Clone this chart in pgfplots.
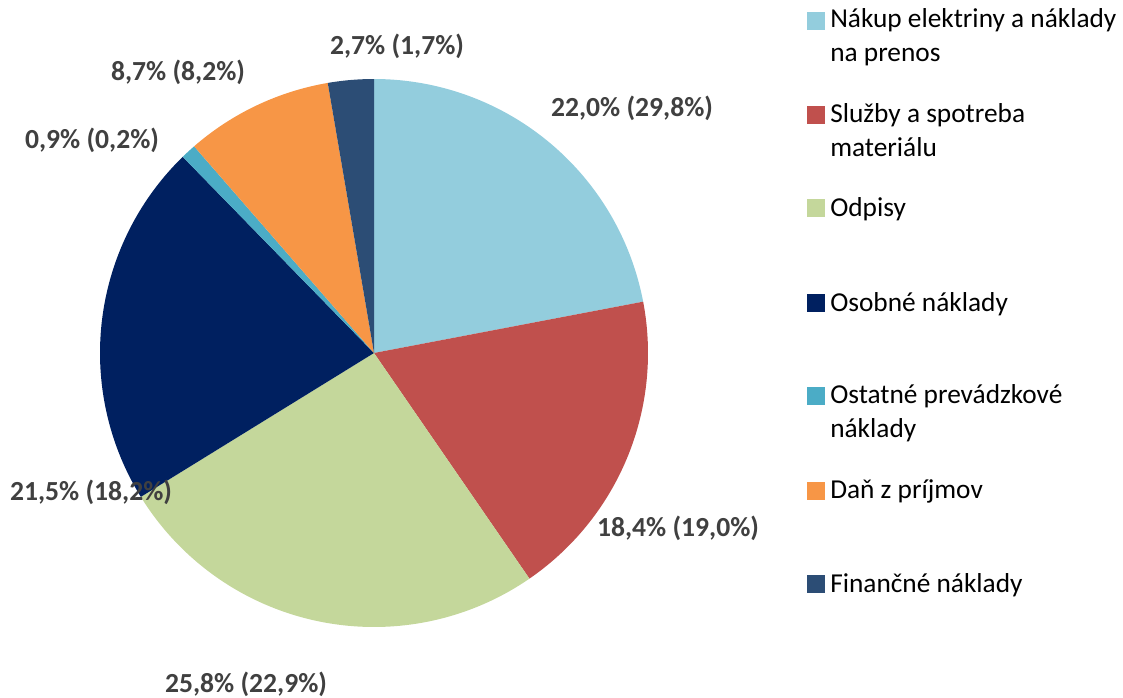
\documentclass[border=0pt]{standalone}
\usepackage{pgfplots}
\usepackage{pgfplotstable}
\pgfplotsset{compat=1.18}
\usepackage{fontspec}
\setmainfont{Carlito}
\definecolor{slice0}{HTML}{93CDDD}
\definecolor{slice1}{HTML}{C0504D}
\definecolor{slice2}{HTML}{C4D79B}
\definecolor{slice3}{HTML}{002060}
\definecolor{slice4}{HTML}{4BACC6}
\definecolor{slice5}{HTML}{F79646}
\definecolor{slice6}{HTML}{2C4D75}
\definecolor{lbl}{HTML}{404040}
\pgfplotstableread{
value prev
22.0 29.8
18.4 19.0
25.8 22.9
21.5 18.2
0.9 0.2
8.7 8.2
2.7 1.7
}\piedata
\begin{document}
\begin{tikzpicture}
\begin{axis}[
  scale only axis, width=842.25pt, height=523.5pt,
  xmin=0, xmax=1123, ymin=0, ymax=698, y dir=reverse,
  hide axis, clip=false,
]
\path (axis cs:0,0) rectangle (axis cs:1123,698);
\def\cum{90}
\pgfplotsforeachungrouped \i in {0,...,6}{%
  \pgfplotstablegetelem{\i}{value}\of\piedata
  \pgfmathsetmacro\a{\cum}%
  \pgfmathsetmacro\b{\cum-3.6*\pgfplotsretval}%
  \edef\cmd{\noexpand\addplot[draw=none, fill=slice\i, domain=\b:\a, samples=120] ({374+274*cos(x)},{353-274*sin(x)}) -- (axis cs:374,353) -- cycle;}%
  \cmd
  \global\let\cum\b
}
% legend squares
\addplot[color=slice0, only marks, mark=square*, mark size=6.2pt] coordinates {(816,21)};
\addplot[color=slice1, only marks, mark=square*, mark size=6.2pt] coordinates {(816,115)};
\addplot[color=slice2, only marks, mark=square*, mark size=6.2pt] coordinates {(816,208)};
\addplot[color=slice3, only marks, mark=square*, mark size=6.2pt] coordinates {(816,303)};
\addplot[color=slice4, only marks, mark=square*, mark size=6.2pt] coordinates {(816,396)};
\addplot[color=slice5, only marks, mark=square*, mark size=6.2pt] coordinates {(816,491)};
\addplot[color=slice6, only marks, mark=square*, mark size=6.2pt] coordinates {(816,584)};
% legend text
\begin{scope}[every node/.style={anchor=base west, inner sep=0pt, font=\fontsize{20.5}{22}\selectfont, text=black}]
\node at (axis cs:830,28) {Nákup elektriny a náklady};
\node at (axis cs:830,62) {na prenos};
\node at (axis cs:830,123) {Služby a spotreba};
\node at (axis cs:830,157) {materiálu};
\node at (axis cs:830,217) {Odpisy};
\node at (axis cs:830,311) {Osobné náklady};
\node at (axis cs:830,403) {Ostatné prevádzkové};
\node at (axis cs:830,437) {náklady};
\node at (axis cs:830,498) {Daň z príjmov};
\node at (axis cs:830,592) {Finančné náklady};
\end{scope}
% data labels
\begin{scope}[every node/.style={anchor=center, inner sep=0pt, font=\fontsize{20.7}{22}\selectfont\bfseries, text=lbl}]
\node at (axis cs:632,108) {22,0\% (29,8\%)};
\node at (axis cs:678,528) {18,4\% (19,0\%)};
\node at (axis cs:246,684) {25,8\% (22,9\%)};
\node at (axis cs:91,492) {21,5\% (18,2\%)};
\node at (axis cs:92,140) {0,9\% (0,2\%)};
\node at (axis cs:178,72) {8,7\% (8,2\%)};
\node at (axis cs:397,46) {2,7\% (1,7\%)};
\end{scope}
\end{axis}
\end{tikzpicture}
\end{document}
